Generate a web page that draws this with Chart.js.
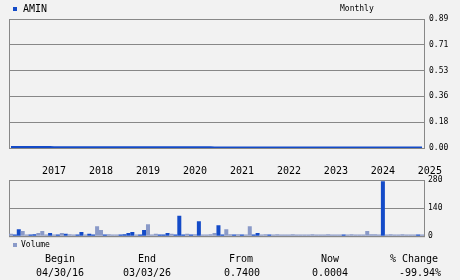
<!DOCTYPE html>
<html><head><meta charset="utf-8">
<script src="https://cdn.jsdelivr.net/npm/chart.js@4/dist/chart.umd.min.js"></script>
<style>
html,body{margin:0;padding:0;background:#f2f2f2;width:460px;height:280px;overflow:hidden;font-family:"DejaVu Sans Mono",monospace;color:#000}
#wrap{position:relative;width:460px;height:280px}
canvas{position:absolute;left:0}
.t{position:absolute;white-space:nowrap;line-height:1}
.c{transform:translateX(-50%)}
.sq{position:absolute}
</style></head><body>
<div id="wrap">
<canvas id="price" width="460" height="180" style="top:0"></canvas>
<canvas id="vol" width="460" height="75" style="top:170px"></canvas>
<div class="sq" style="left:13px;top:7px;width:4px;height:4px;background:#144bc8"></div>
<div class="t" style="left:23px;top:4px;font-size:10px">AMIN</div>
<div class="t" style="left:340px;top:5px;font-size:8px">Monthly</div>
<div class="sq" style="left:13px;top:243px;width:4px;height:4px;background:#8a9ac8"></div>
<div class="t" style="left:21px;top:241px;font-size:8px">Volume</div>
<div id="stats"></div>
</div>
<script>
const DARK = '#144bc8';
const LIGHT = '#8a9ac8';
const GRID = '#888888';

// monthly closing price (index 0 = first month on the chart)
const price = [
0.0030,0.0030,0.0029,0.0029,0.0028,0.0028,0.0028,0.0027,0.0027,0.0026,
0.0026,0.0025,0.0025,0.0025,0.0024,0.0024,0.0023,0.0023,0.0022,0.0022,
0.0022,0.0021,0.0021,0.0020,0.0020,0.0019,0.0019,0.0019,0.0018,0.0018,
0.0017,0.0017,0.0016,0.0016,0.0016,0.0015,0.0015,0.0014,0.0014,0.0013,
0.0013,0.0013,0.0012,0.0012,0.0011,0.0011,0.0010,0.0010,0.0010,0.0009,
0.0009,0.0009,0.0008,0.0008,0.0008,0.0008,0.0007,0.0007,0.0007,0.0007,
0.0007,0.0006,0.0006,0.0006,0.0006,0.0006,0.0006,0.0005,0.0005,0.0005,
0.0005,0.0005,0.0005,0.0005,0.0005,0.0005,0.0005,0.0005,0.0005,0.0005,
0.0005,0.0005,0.0005,0.0005,0.0005,0.0005,0.0004,0.0004,0.0004,0.0004,
0.0004,0.0004,0.0004,0.0004,0.0004,0.0004,0.0004,0.0004,0.0004,0.0004,
0.0004,0.0004,0.0004,0.0004,0.0004,0.0004
];

// monthly volume
const volume = [
12,9,35,26,9,9,10,16,26,9,
16,9,9,16,12,10,9,9,21,9,
12,9,50,31,9,10,9,9,9,10,
16,21,9,9,31,59,9,12,9,9,
16,12,9,102,9,12,9,10,74,9,
9,10,16,55,9,35,10,9,10,9,
9,50,9,16,9,10,9,9,10,9,
9,9,10,9,9,9,9,10,9,9,
9,10,9,9,9,9,9,10,9,9,
9,26,10,10,9,274,9,10,9,9,
10,9,9,9,9,9
];
// 1 = up month (dark bar), 0 = down month (light bar)
const upMonth = [
0,1,1,0,0,1,1,0,0,0,
1,0,1,0,1,0,0,1,1,0,
1,1,0,0,1,0,0,0,1,1,
1,1,0,1,1,0,0,0,1,1,
1,0,1,1,1,0,1,0,1,0,
0,0,0,1,1,0,0,1,0,1,
0,0,1,1,0,0,1,0,0,0,
0,0,0,0,0,0,0,0,0,0,
0,0,0,0,0,1,0,0,0,0,
0,0,0,0,0,1,0,0,0,0,
0,0,0,0,1,0
];

const yearLabels = ['2017','2018','2019','2020','2021','2022','2023','2024','2025'];
const yearTickIndex = [11,23,35,47,59,71,83,95,107];
const priceTicks = [0, 0.178, 0.356, 0.534, 0.712, 0.89];
const volumeTicks = [0, 140, 280];

const statLabels = ['Begin','End','From','Now','% Change'];
const statValues = ['04/30/16','03/03/26','0.7400','0.0004','-99.94%'];
const statLabelX = [60,147,241,330,414];
const statValueX = [60,147,242,330,420];

const stats = document.getElementById('stats');
statLabels.forEach((s,i)=>{
  const a=document.createElement('div'); a.className='t c'; a.style.cssText=`left:${statLabelX[i]}px;top:254px;font-size:10px`; a.textContent=s; stats.appendChild(a);
  const b=document.createElement('div'); b.className='t c'; b.style.cssText=`left:${statValueX[i]}px;top:268px;font-size:10px`; b.textContent=statValues[i]; stats.appendChild(b);
});

const frame = {id:'frame', beforeDatasetsDraw(c){
  const a=c.chartArea, g=c.ctx; g.save(); g.strokeStyle=GRID; g.lineWidth=1;
  g.strokeRect(a.left+0.5, a.top+0.5, a.right-a.left, a.bottom-a.top); g.restore();
}};

const MONO = 'DejaVu Sans Mono';
const xMin = -0.5, xMax = price.length - 0.5;

new Chart(document.getElementById('price'), {
  type:'line',
  data:{datasets:[{data: price.map((v,i)=>({x:i,y:v})), borderColor:DARK, borderWidth:3, pointRadius:0, tension:0, fill:false}]},
  options:{
    responsive:false, animation:false, events:[],
    layout:{padding:{left:9, top:19, right:0, bottom:0}},
    plugins:{legend:{display:false}, tooltip:{enabled:false}},
    scales:{
      x:{type:'linear', min:xMin, max:xMax,
        grid:{display:false, drawTicks:false}, border:{display:false},
        afterBuildTicks:s=>{s.ticks = yearTickIndex.map(v=>({value:v}));},
        ticks:{autoSkip:false, maxRotation:0, minRotation:0, padding:17, color:'#000', font:{family:MONO, size:10},
          callback:(v,i)=>yearLabels[i]},
        afterFit:s=>{s.height=32;}
      },
      y:{position:'right', min:0, max:0.89,
        afterBuildTicks:s=>{s.ticks = priceTicks.map(v=>({value:v}));},
        grid:{color:GRID, drawTicks:false}, border:{display:true, color:GRID},
        ticks:{padding:5, color:'#000', font:{family:MONO, size:8}, callback:v=>v.toFixed(2)},
        afterFit:s=>{s.width=36;}
      }
    }
  },
  plugins:[frame]
});

new Chart(document.getElementById('vol'), {
  type:'bar',
  data:{datasets:[{data: volume.map((v,i)=>({x:i,y:v})), backgroundColor: upMonth.map(u=>u?DARK:LIGHT),
    barThickness:4, borderWidth:0, inflateAmount:0}]},
  options:{
    responsive:false, animation:false, events:[],
    layout:{padding:{left:9, top:10, right:0, bottom:6}},
    plugins:{legend:{display:false}, tooltip:{enabled:false}},
    scales:{
      x:{type:'linear', min:xMin, max:xMax, offset:false,
        grid:{display:false, drawTicks:false, offset:false}, border:{display:false},
        ticks:{display:false},
        afterFit:s=>{s.height=0; s.paddingLeft=0; s.paddingRight=0;}
      },
      y:{position:'right', min:0, max:280,
        afterBuildTicks:s=>{s.ticks = volumeTicks.map(v=>({value:v}));},
        grid:{color:GRID, drawTicks:false}, border:{display:true, color:GRID},
        ticks:{padding:4, color:'#000', font:{family:MONO, size:8}},
        afterFit:s=>{s.width=36;}
      }
    }
  },
  plugins:[frame]
});
</script>
</body></html>
